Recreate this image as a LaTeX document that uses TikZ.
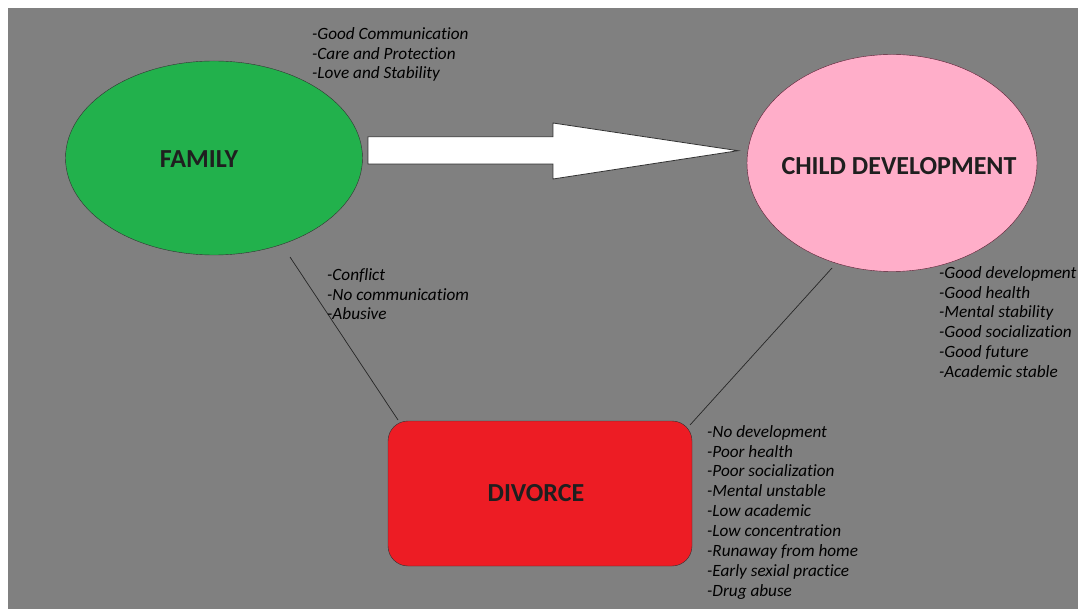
\documentclass[tikz,border=0pt]{standalone}
\usetikzlibrary{shapes.geometric}
\usepackage{fontspec}
\setmainfont[Ligatures=CommonOff]{Carlito}
\definecolor{bg}{RGB}{128,128,128}
\definecolor{famgreen}{RGB}{34,177,76}
\definecolor{childpink}{RGB}{255,174,201}
\definecolor{childedge}{RGB}{90,30,50}
\definecolor{divred}{RGB}{237,28,36}
\begin{document}
\begin{tikzpicture}[x=1pt,y=-1pt,
  lst/.style={anchor=north west, align=left, font=\itshape\fontsize{17.2}{19.9}\selectfont, inner sep=0pt, text=black},
  title/.style={font=\bfseries\fontsize{26}{30}\selectfont, text=black!88}]
\useasboundingbox[fill=white] (0,0) rectangle (1078,609);
\fill[bg] (8,8) rectangle (1078,609);
% family
\node[ellipse, draw=black!80, fill=famgreen, minimum width=297, minimum height=194, inner sep=0pt] (fam) at (214,158) {};
\node[title] (famt) at (199,159) {FAMILY};
% child
\node[ellipse, draw=childedge, fill=childpink, minimum width=290, minimum height=217, inner sep=0pt] (child) at (892,163) {};
\node[title] (childt) at (899,166) {CHILD DEVELOPMENT};
% divorce
\node[rectangle, rounded corners=20, draw=black!80, fill=divred, minimum width=304, minimum height=145, inner sep=0pt] (div) at (540,493.5) {};
\node[title] (divt) at (536,493) {DIVORCE};
% arrow
\draw[black!80, fill=white, line width=0.8] (368,136.7) -- (553,136.7) -- (553,123) -- (738,150.7) -- (553,179) -- (553,164) -- (368,164) -- cycle;
% connectors
\coordinate (a1) at (290,257);
\coordinate (a2) at (398,420);
\coordinate (b1) at (832,268);
\coordinate (b2) at (690,425);
\draw[black!85, line width=0.7] (a1) -- (a2);
\draw[black!85, line width=0.7] (b1) -- (b2);
% lists
\node[lst] (l1) at (312,27) {-Good Communication\\-Care and Protection\\-Love and Stability};
\node[lst] (l2) at (327,268) {-Conflict\\-No communicatiom\\-Abusive};
\node[lst] (l3) at (939,266) {-Good development\\-Good health\\-Mental stability\\-Good socialization\\-Good future\\-Academic stable};
\node[lst] (l4) at (707,425) {-No development\\-Poor health\\-Poor socialization\\-Mental unstable\\-Low academic\\-Low concentration\\-Runaway from home\\-Early sexial practice\\-Drug abuse};
\end{tikzpicture}
\end{document}
